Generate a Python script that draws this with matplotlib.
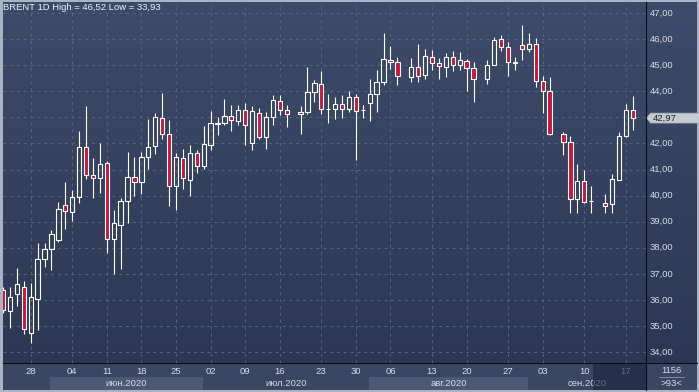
import matplotlib
matplotlib.use("Agg")
import matplotlib.pyplot as plt
import numpy as np
from matplotlib.colors import to_rgb
from matplotlib.lines import Line2D
from matplotlib.patches import Polygon, Rectangle

nan = np.nan

# ---------- data (one slot per bar, nan = empty slot) -----------------------
opens = [36.40, 35.57, 36.22, 36.49, 34.72, 36.03, 37.56, 37.97, 38.31, 39.63,
         39.36, 39.93, 41.88, 40.78, 40.66, 41.24, 38.33, 38.86, 39.79, 40.70,
         40.52, 41.47, 41.90, 42.97, 42.37, 40.35, 41.44, 40.60, 41.63, 41.12,
         41.94, 42.75, 42.77, 43.04, 42.85, 43.29, 42.01, 43.17, 42.23, 43.01,
         43.62, 43.29, nan, 43.12, 43.22, 43.96, 44.27, 43.30, 43.31, 43.50,
         43.31, 43.77, 43.27, 43.56, 43.88, 44.37, 45.21, 45.12, nan, 44.56,
         44.92, 44.63, 45.31, 45.08, 44.91, 45.31, 44.99, 45.16, 44.89, nan,
         44.47, 45.02, 46.00, 45.69, 45.08, 45.76, 45.62, 45.81, 44.39, 44.01,
         nan, 42.36, 42.05, 39.86, 40.55, 39.79, nan, 39.71, 39.67, 40.60,
         42.27, 43.29]
highs = [36.50, 36.49, 37.21, 36.73, 36.64, 38.17, 38.17, 38.68, 39.77, 40.52,
         40.22, 42.48, 43.43, 41.43, 42.00, 41.34, 39.45, 39.92, 41.68, 41.49,
         41.68, 42.94, 43.18, 43.94, 42.91, 41.65, 41.79, 41.95, 41.76, 42.65,
         43.26, 43.01, 43.72, 43.49, 43.49, 43.53, 43.45, 43.36, 43.21, 43.87,
         43.85, 43.49, nan, 43.44, 44.91, 44.44, 44.78, 43.90, 43.79, 43.85,
         43.99, 43.90, 43.47, 44.47, 44.82, 46.23, 45.74, 45.31, nan, 45.29,
         45.81, 45.63, 45.59, 45.27, 45.46, 45.55, 45.50, 45.25, 45.10, nan,
         45.21, 46.06, 46.14, 45.88, 45.30, 46.52, 46.23, 46.04, 44.59, 44.54,
         nan, 42.43, 42.27, 41.22, 40.99, 40.37, nan, 40.07, 40.83, 42.43,
         43.52, 43.83]
lows = [35.50, 34.92, 35.77, 34.69, 34.34, 34.85, 37.28, 37.15, 38.24, 38.73,
        39.04, 39.70, 40.65, 39.90, 40.11, 37.79, 36.98, 37.19, 38.94, 39.99,
        40.05, 41.02, 41.58, 42.17, 39.60, 39.45, 40.27, 39.99, 40.88, 41.01,
        41.73, 42.32, 42.72, 42.46, 42.72, 41.94, 41.76, 42.17, 41.79, 42.69,
        43.10, 42.62, nan, 42.35, 43.12, 43.60, 43.12, 42.79, 42.92, 42.99,
        43.19, 41.36, 42.99, 42.86, 43.22, 44.22, 44.85, 44.24, nan, 44.37,
        44.37, 44.47, 44.82, 44.46, 44.53, 44.76, 44.80, 43.99, 43.57, nan,
        44.27, 44.99, 45.53, 44.57, 44.80, 45.21, 45.50, 44.18, 43.15, 42.32,
        nan, 41.54, 39.33, 39.35, 39.71, 39.35, nan, 39.33, 39.35, 40.58,
        42.24, 42.52]
closes = [35.62, 36.10, 36.61, 34.88, 36.10, 37.56, 37.97, 38.53, 39.49, 39.40,
          39.93, 41.85, 40.78, 40.66, 41.20, 38.33, 38.94, 39.79, 40.70, 40.52,
          41.47, 41.88, 43.00, 42.37, 40.35, 41.47, 40.67, 41.63, 41.12, 41.97,
          42.78, 42.79, 43.06, 42.88, 43.29, 42.72, 43.26, 42.23, 43.01, 43.68,
          43.27, 43.13, nan, 43.19, 43.96, 44.31, 43.31, 43.32, 43.50, 43.31,
          43.77, 43.26, 43.29, 43.88, 44.35, 45.23, 45.12, 44.60, nan, 44.92,
          44.60, 45.33, 45.08, 44.95, 45.31, 44.99, 45.21, 44.89, 44.47, nan,
          45.02, 45.97, 45.69, 45.12, 45.10, 45.62, 45.81, 44.39, 44.01, 42.36,
          nan, 42.05, 39.86, 40.55, 39.76, 39.80, nan, 39.61, 40.63, 42.29,
          43.29, 42.97]

date_ticks = [4, 10, 15, 20, 25, 30, 35, 40, 46, 51, 56, 62, 67, 73, 78, 84, 90]
date_labels = ["28", "04", "11", "18", "25", "02", "09", "16", "23", "30",
               "06", "13", "20", "27", "03", "10", "17"]
months = ["июн.2020", "июл.2020", "авг.2020", "сен.2020"]
month_edges = [6.8, 28.9, 52.9, 75.9, 92.93]
price_levels = list(range(34, 48))
last_price = 42.97
title = "BRENT 1D High = 46,52 Low = 33,93"
corner_top, corner_bottom = "1156", ">93<"
shade_from = 85.3

# ---------- style ------------------------------------------------------------
W, H = 699, 392
FRAME = "#a9b3c4"
BG_TOP, BG_BOT = "#3d4b6a", "#2c3853"
PANEL = "#3a4762"
BAND = "#4b5975"
GRID = "#55647f"
RED = "#cc1638"
TXT = "#d6dbe5"
FONT = "Liberation Sans"
FS = 6.8

plt.rcParams["font.family"] = [FONT, "DejaVu Sans"]

XLIM = (-0.075, 92.93)
YLIM = (33.586, 47.418)


def px_box(x0, y0, x1, y1):
    return [x0 / W, 1 - y1 / H, (x1 - x0) / W, (y1 - y0) / H]


def gradient(ax, top, bottom):
    t = np.linspace(0, 1, 256)[:, None]
    img = (1 - t) * np.array(to_rgb(top)) + t * np.array(to_rgb(bottom))
    ax.imshow(img[:, None, :], extent=[0, 1, 0, 1], transform=ax.transAxes,
              aspect="auto", zorder=0)


def bare(ax):
    ax.set_xticks([])
    ax.set_yticks([])
    for s in ax.spines.values():
        s.set_visible(False)


fig = plt.figure(figsize=(W / 100, H / 100), dpi=100)
fig.patch.set_facecolor(FRAME)

# ---------- main price pane --------------------------------------------------
ax = fig.add_axes(px_box(2.5, 2, 646, 363))
gradient(ax, BG_TOP, BG_BOT)
bare(ax)

for y in price_levels:
    ax.axhline(y, color=GRID, lw=0.7, dashes=(3, 4), zorder=1)
for i in date_ticks:
    ax.axvline(i, color=GRID, lw=0.7, dashes=(3, 4), zorder=1)

o = np.array(opens)
h = np.array(highs)
lo = np.array(lows)
c = np.array(closes)
x = np.arange(len(o))
ok = ~np.isnan(o)
up = ok & (c >= o)
dn = ok & (c < o)
top = np.maximum(o, c)
bot = np.minimum(o, c)

ax.vlines(x[ok], top[ok], h[ok], color="white", lw=0.8, zorder=3)
ax.vlines(x[ok], lo[ok], bot[ok], color="white", lw=0.8, zorder=3)
ax.bar(x[up], np.maximum(c - o, 0.01)[up], bottom=o[up], width=0.62,
       facecolor="none", edgecolor="white", lw=0.8, zorder=4)
ax.bar(x[dn], (o - c)[dn], bottom=c[dn], width=0.62,
       facecolor=RED, edgecolor="white", lw=0.8, zorder=4)

ax.set_xlim(*XLIM)
ax.set_ylim(*YLIM)
ax.text(0.0015, 0.997, title, transform=ax.transAxes, ha="left", va="top",
        fontsize=FS, color="#eef1f6", zorder=6)

# ---------- right price scale ------------------------------------------------
axr = fig.add_axes(px_box(646, 2, 697, 363))
gradient(axr, BG_TOP, BG_BOT)
bare(axr)
axr.set_xlim(0, 51)
axr.set_ylim(*YLIM)
for y in price_levels:
    if abs(y - last_price) < 0.35:
        continue  # hidden under the last-price tag
    axr.text(4, y, f"{y:.2f}".replace(".", ","), ha="left", va="center",
             fontsize=FS, color=TXT)
dy = 5 / 26.1
tag = Polygon([(0.3, last_price), (4.5, last_price + dy), (54, last_price + dy),
               (54, last_price - dy), (4.5, last_price - dy)],
              closed=True, facecolor="#c6cad2", edgecolor="#9aa2b0", lw=0.5,
              clip_on=False, zorder=5)
axr.add_patch(tag)
axr.text(6.5, last_price, f"{last_price:.2f}".replace(".", ","), ha="left",
         va="center", fontsize=FS, color="#222222", zorder=6)

# ---------- date strip -------------------------------------------------------
axb = fig.add_axes(px_box(2.5, 363, 646, 390))
axb.set_facecolor(PANEL)
bare(axb)
axb.set_xlim(*XLIM)
axb.set_ylim(390, 363)
for k, name in enumerate(months):
    a, b = month_edges[k], month_edges[k + 1]
    if k % 2 == 0:
        axb.add_patch(Rectangle((a, 377), b - a, 13, facecolor=BAND,
                                edgecolor="none", zorder=1))
    axb.text((a + b) / 2, 383.3, name, ha="center", va="center",
             fontsize=FS, color=TXT, zorder=2)
for i, lab in zip(date_ticks, date_labels):
    axb.text(i, 371, lab, ha="center", va="center", fontsize=FS, color=TXT,
             zorder=2)
axb.add_patch(Rectangle((shade_from, 363), XLIM[1] - shade_from, 27,
                        facecolor="#18213a", alpha=0.6, edgecolor="none",
                        zorder=5))

# ---------- corner box -------------------------------------------------------
axc = fig.add_axes(px_box(646, 363, 697, 390))
axc.set_facecolor(PANEL)
bare(axc)
axc.set_xlim(0, 51)
axc.set_ylim(390, 363)
axc.text(25.5, 370.3, corner_top, ha="center", va="center", fontsize=FS,
         color=TXT)
axc.plot([13, 38], [377, 377], color="#8994a8", lw=0.6)
axc.text(25.5, 383.3, corner_bottom, ha="center", va="center", fontsize=FS,
         color=TXT)

# ---------- separators -------------------------------------------------------
fig.add_artist(Line2D([646 / W, 646 / W], [1 - 2 / H, 1 - 390 / H],
                      color="#0a0e16", lw=0.8, transform=fig.transFigure))
fig.add_artist(Line2D([2.5 / W, 697 / W], [1 - 363 / H, 1 - 363 / H],
                      color="#0a0e16", lw=0.8, transform=fig.transFigure))

fig.savefig("out.png", dpi=100, facecolor=FRAME)
